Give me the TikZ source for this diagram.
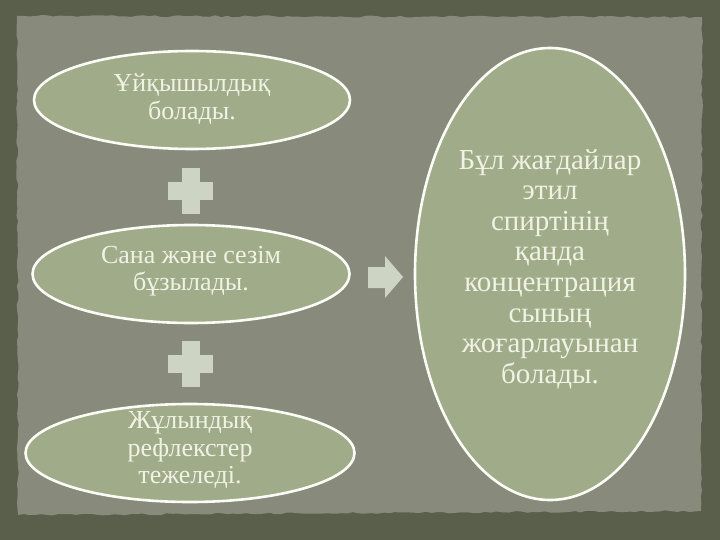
\documentclass[tikz,border=0pt]{standalone}
\usepackage{fontspec}
\setmainfont{Liberation Serif}
\usetikzlibrary{shapes.geometric,decorations.pathmorphing}
\definecolor{outerbg}{RGB}{90,95,76}
\definecolor{panelc}{RGB}{136,139,123}
\definecolor{sage}{RGB}{160,171,137}
\definecolor{txt}{RGB}{240,242,228}
\definecolor{plusc}{RGB}{206,212,196}
\definecolor{rimc}{RGB}{252,252,246}
\tikzset{
  ovalnode/.style={shape=ellipse, fill=sage, draw=rimc, line width=2.6pt, inner sep=0pt},
  labeltext/.style={text=txt, align=center, inner sep=0pt},
  smalltext/.style={labeltext, font=\fontsize{26}{27.5}\selectfont},
  bigtext/.style={labeltext, font=\fontsize{29}{30.6}\selectfont},
  plusmark/.style={fill=plusc},
}
\begin{document}
\begin{tikzpicture}[x=1pt,y=-1pt]
\useasboundingbox (0,0) rectangle (720,540);
\fill[outerbg] (0,0) rectangle (720,540);
\pgfmathsetseed{7}
\fill[panelc, decorate, decoration={random steps, segment length=6pt, amplitude=1pt}]
  (17,16) -- (702,17) -- (701,511) -- (18,515) -- cycle;

\node[ovalnode, minimum width=316pt, minimum height=98pt] (e1) at (192,100) {};
\node[ovalnode, minimum width=317pt, minimum height=98pt] (e2) at (191,274) {};
\node[ovalnode, minimum width=329pt, minimum height=98pt] (e3) at (190,453) {};
\node[ovalnode, minimum width=270pt, minimum height=452pt] (big) at (550,274) {};

\node[smalltext] (t1) at ([yshift=1pt]e1.center) {Ұйқышылдық\\болады.};
\node[smalltext] (t2) at ([yshift=3pt]e2.center) {Сана және сезім\\бұзылады.};
\node[smalltext] (t3) at ([yshift=3pt]e3.center) {Жұлындық\\рефлекстер\\тежеледі.};
\node[bigtext] (tb) at ([yshift=5pt]big.center) {Бұл жағдайлар\\этил\\спиртінің\\қанда\\концентрация\\сының\\жоғарлауынан\\болады.};

% plus signs
\foreach \cy in {191,364}{
  \fill[plusmark] (168,\cy-9) rectangle (213,\cy+9);
  \fill[plusmark] (182,\cy-23) rectangle (200,\cy+23);
}
% arrow
\fill[plusmark] (368,267) -- (385,267) -- (385,256) -- (403,277) -- (385,298) -- (385,288) -- (368,288) -- cycle;
\end{tikzpicture}
\end{document}
